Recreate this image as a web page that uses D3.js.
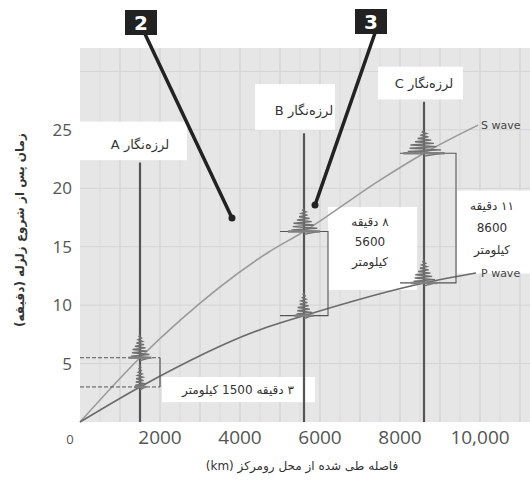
<!DOCTYPE html>
<html>
<head>
<meta charset="utf-8">
<script src="https://cdn.jsdelivr.net/npm/d3@7"></script>
<style>
  body { margin: 0; background: #fff; }
  svg { display: block; }
  .fa { font-family: "DejaVu Sans", sans-serif; }
  .num { font-family: "Open Sans", "DejaVu Sans", sans-serif; fill: #555; }
</style>
</head>
<body>
<svg id="chart" width="530" height="481"></svg>
<script>
// travel-time curves (distance km, minutes)
var sDist = [0, 1500, 2500, 4700, 5600, 7500, 8600, 9950];
var sTime = [0, 5.5, 8.7, 14.5, 16.3, 20.7, 23.0, 25.4];
var pDist = [0, 1500, 4500, 5600, 8600, 9900];
var pTime = [0, 3.0, 7.9, 9.1, 11.9, 12.75];

// the three stations
var stations = ["A", "B", "C"];
var stationDist = [1500, 5600, 8600];
var stationP = [3.0, 9.1, 11.9];
var stationS = [5.5, 16.3, 23.0];
var stationTop = [22.2, 24.7, 27.4];

// tick labels
var xTicks = [0, 2000, 4000, 6000, 8000, 10000];
var xTickLabels = ["0", "2000", "4000", "6000", "8000", "10,000"];
var yTicks = [5, 10, 15, 20, 25];

// shape of a burst on the seismogram (relative amplitude, every 0.14 min)
var burstProfile = [1.0, 0.9, 0.95, 0.8, 0.7, 0.75, 0.55, 0.5, 0.4, 0.35, 0.25, 0.2, 0.15, 0.1];

var svg = d3.select("#chart");

var x = d3.scaleLinear().domain([0, 11250]).range([80, 530]);
var y = d3.scaleLinear().domain([0, 32]).range([422, 48]);

//gray plot background
svg.append("rect")
   .attr("x", x(0)).attr("y", y(32))
   .attr("width", x(11250) - x(0)).attr("height", y(0) - y(32))
   .style("fill", "#e6e6e6");

//minor and major grid lines
var grid = svg.append("g");
grid.selectAll(".vminor").data(d3.range(500, 11250, 1000)).enter().append("line")
    .attr("x1", x).attr("x2", x).attr("y1", y(0)).attr("y2", y(32))
    .style("stroke", "#dadada").style("stroke-width", 1);
grid.selectAll(".vmajor").data(d3.range(1000, 11250, 1000)).enter().append("line")
    .attr("x1", x).attr("x2", x).attr("y1", y(0)).attr("y2", y(32))
    .style("stroke", "#cdcdcd").style("stroke-width", 1);
grid.selectAll(".hmajor").data(d3.range(5, 32, 5)).enter().append("line")
    .attr("y1", y).attr("y2", y).attr("x1", x(0)).attr("x2", x(11250))
    .style("stroke", "#d4d4d4").style("stroke-width", 1);

//white label boxes (drawn first so the traces sit on top)
var boxes = [
  {x0: 0, x1: 2675, t0: 25.7, t1: 22.4},      // station A title
  {x0: 4375, x1: 6375, t0: 28.9, t1: 25.0},   // station B title
  {x0: 7450, x1: 9575, t0: 30.4, t1: 27.6},   // station C title
  {x0: 2050, x1: 5875, t0: 3.85, t1: 1.7},    // A note
  {x0: 6200, x1: 8425, t0: 18.4, t1: 11.3},   // B note
  {x0: 9425, x1: 11250, t0: 19.8, t1: 12.7}   // C note
];
svg.selectAll(".box").data(boxes).enter().append("rect")
   .attr("x", function(d){ return x(d.x0); })
   .attr("y", function(d){ return y(d.t0); })
   .attr("width", function(d){ return x(d.x1) - x(d.x0); })
   .attr("height", function(d){ return y(d.t1) - y(d.t0); })
   .style("fill", "#fff");

//travel time curves
var line = d3.line().curve(d3.curveMonotoneX)
    .x(function(d){ return x(d[0]); })
    .y(function(d){ return y(d[1]); });

svg.append("path").datum(d3.zip(sDist, sTime))
   .attr("d", line)
   .style("fill", "none").style("stroke", "#9a9a9a").style("stroke-width", 1.6);
svg.append("path").datum(d3.zip(pDist, pTime))
   .attr("d", line)
   .style("fill", "none").style("stroke", "#6a6a6a").style("stroke-width", 1.6);

svg.append("text").attr("x", x(sDist[sDist.length-1]) + 3).attr("y", y(sTime[sTime.length-1]) + 4)
   .attr("class", "fa").style("font-size", "11px").style("fill", "#444").text("S wave");
svg.append("text").attr("x", x(pDist[pDist.length-1]) + 5).attr("y", y(pTime[pTime.length-1]) + 4)
   .attr("class", "fa").style("font-size", "11px").style("fill", "#444").text("P wave");

//brackets for the S-P gap
var dark = "#555";
// station A: dashed guides back to the axis
[stationS[0], stationP[0]].forEach(function(t){
  svg.append("line").attr("x1", x(0)).attr("x2", x(2000)).attr("y1", y(t)).attr("y2", y(t))
     .style("stroke", dark).style("stroke-width", 1).style("stroke-dasharray", "4,2");
});
svg.append("line").attr("x1", x(2000)).attr("x2", x(2000)).attr("y1", y(stationS[0])).attr("y2", y(stationP[0]))
   .style("stroke", dark).style("stroke-width", 1.2);

var brackets = [{i: 1, x0: 5000, x1: 6200}, {i: 2, x0: 8000, x1: 9400}];
brackets.forEach(function(b){
  var pts = [[b.x0, stationS[b.i]], [b.x1, stationS[b.i]], [b.x1, stationP[b.i]], [b.x0, stationP[b.i]]];
  svg.append("path").datum(pts)
     .attr("d", d3.line().x(function(d){ return x(d[0]); }).y(function(d){ return y(d[1]); }))
     .style("fill", "none").style("stroke", dark).style("stroke-width", 1.1);
});

//seismograms
var traces = svg.append("g");
stations.forEach(function(s, i){
  var sx = stationDist[i];
  traces.append("line")
     .attr("x1", x(sx)).attr("x2", x(sx)).attr("y1", y(0)).attr("y2", y(stationTop[i]))
     .style("stroke", "#555").style("stroke-width", 2.2);

  var amps = [[stationP[i], 130 + 80 * i], [stationS[i], 250 + 100 * i]];
  amps.forEach(function(a){
    var pts = [[sx, a[0] - 0.25]];
    burstProfile.forEach(function(r, k){
      var side = (k % 2 === 0) ? 1 : -1;
      pts.push([sx + side * r * a[1], a[0] + k * 0.14]);
    });
    pts.push([sx, a[0] + burstProfile.length * 0.14]);
    traces.append("path").datum(pts)
       .attr("d", d3.line().x(function(d){ return x(d[0]); }).y(function(d){ return y(d[1]); }))
       .style("fill", "none").style("stroke", "#707070").style("stroke-width", 1.4);
    //cross mark at arrival
    traces.append("line")
       .attr("x1", x(sx - a[1] * 1.15)).attr("x2", x(sx + a[1] * 1.15))
       .attr("y1", y(a[0])).attr("y2", y(a[0]))
       .style("stroke", "#808080").style("stroke-width", 2.4);
  });
});

//station titles
var titlePos = [[1500, 23.4], [5600, 26.3], [8600, 28.6]];
svg.selectAll(".stitle").data(stations).enter().append("text")
   .attr("class", "fa")
   .attr("x", function(d, i){ return x(titlePos[i][0]); })
   .attr("y", function(d, i){ return y(titlePos[i][1]); })
   .attr("text-anchor", "middle").attr("direction", "rtl")
   .style("font-size", "13px").style("fill", "#333")
   .text(function(d){ return "لرزه‌نگار " + d; });

//notes
function note(cx, lines, t0, step){
  lines.forEach(function(s, k){
    svg.append("text").attr("class", "fa")
       .attr("x", x(cx)).attr("y", y(t0) + k * step)
       .attr("text-anchor", "middle").attr("direction", "rtl")
       .style("font-size", "12px").style("fill", "#333").text(s);
  });
}
note(3950, ["۳ دقیقه 1500 کیلومتر"], 2.4, 0);
note(7250, ["۸ دقیقه", "5600", "کیلومتر"], 16.8, 20);
note(10300, ["۱۱ دقیقه", "8600", "کیلومتر"], 18.1, 22);

//numbered callouts
var callouts = [
  {n: "2", bx: 125, by: 10, tx: 3800, tt: 17.45},
  {n: "3", bx: 355, by: 9, tx: 5875, tt: 18.56}
];
callouts.forEach(function(c){
  svg.append("line").attr("x1", c.bx + 20).attr("y1", c.by + 24)
     .attr("x2", x(c.tx)).attr("y2", y(c.tt))
     .style("stroke", "#222").style("stroke-width", 3.5);
  svg.append("circle").attr("cx", x(c.tx)).attr("cy", y(c.tt)).attr("r", 3.5).style("fill", "#222");
  svg.append("rect").attr("x", c.bx).attr("y", c.by).attr("width", 32).attr("height", 25)
     .style("fill", "#222");
  svg.append("text").attr("x", c.bx + 16).attr("y", c.by + 20).attr("text-anchor", "middle")
     .style("font-family", "DejaVu Sans").style("font-weight", "bold").style("font-size", "20px")
     .style("fill", "#fff").text(c.n);
});

//axes labels
svg.selectAll(".xt").data(xTicks).enter().append("text")
   .attr("class", "num")
   .attr("x", function(d){ return d === 0 ? x(d) - 10 : x(d); })
   .attr("y", 444).attr("text-anchor", "middle")
   .style("font-size", function(d){ return d === 0 ? "13px" : "19px"; })
   .text(function(d, i){ return xTickLabels[i]; });

svg.selectAll(".yt").data(yTicks).enter().append("text")
   .attr("class", "num")
   .attr("x", 72).attr("y", function(d){ return y(d) + 6; })
   .attr("text-anchor", "end").style("font-size", "17px")
   .text(function(d){ return d; });

svg.append("text").attr("class", "fa")
   .attr("x", 302).attr("y", 470).attr("text-anchor", "middle").attr("direction", "rtl")
   .style("font-size", "12px").style("fill", "#333")
   .text("فاصله طی شده از محل رومرکز (km)");

svg.append("text").attr("class", "fa")
   .attr("transform", "translate(24,230) rotate(-90)")
   .attr("text-anchor", "middle").attr("direction", "rtl")
   .style("font-size", "12px").style("font-weight", "bold").style("fill", "#333")
   .text("زمان پس از شروع زلزله (دقیقه)");
</script>
</body>
</html>
